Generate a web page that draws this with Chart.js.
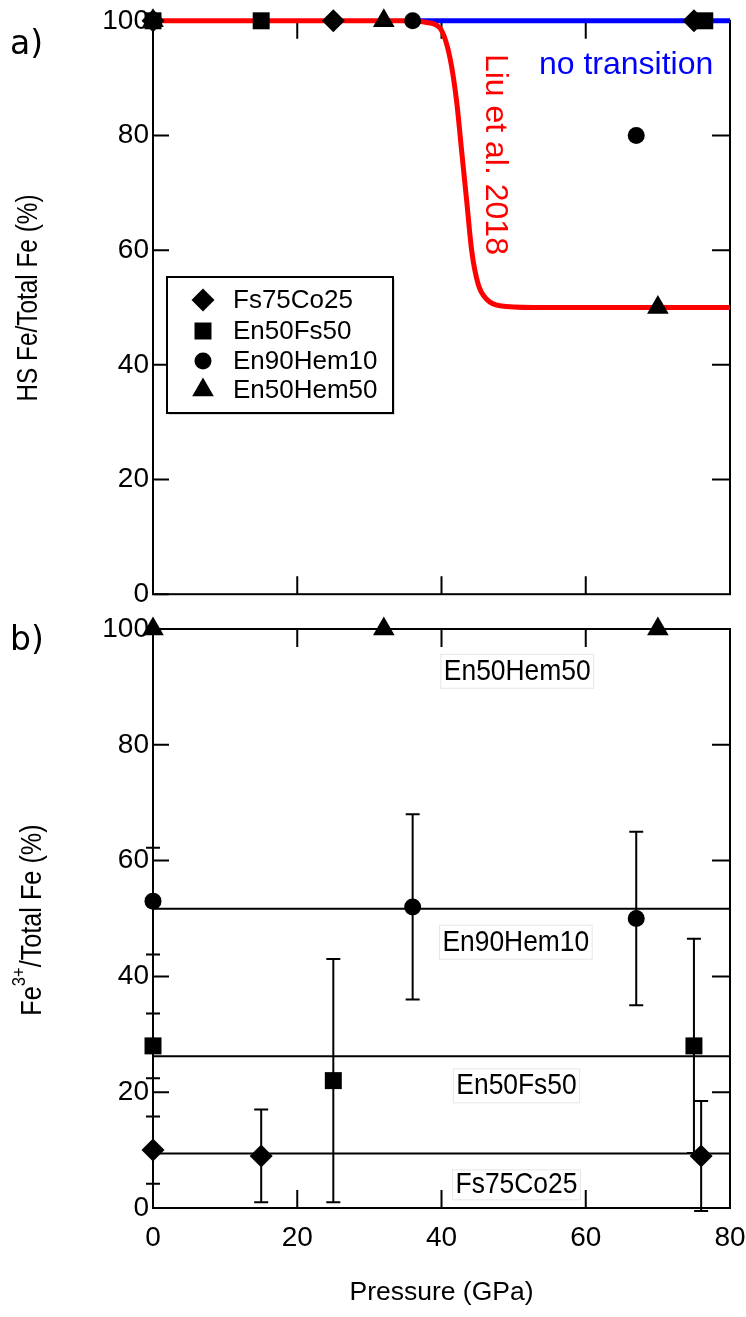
<!DOCTYPE html>
<html><head><meta charset="utf-8">
<script src="https://cdn.jsdelivr.net/npm/chart.js@4/dist/chart.umd.min.js"></script>
<style>
html,body{margin:0;padding:0;background:#fff;}
#wrap{position:relative;width:746px;height:1317px;overflow:hidden;}
#ca{position:absolute;left:0;top:0;}
#cb{position:absolute;left:0;top:608px;}
</style></head><body>
<div id="wrap"><canvas id="ca" width="746" height="615"></canvas><canvas id="cb" width="746" height="709"></canvas></div>
<script>
// ---------- data ----------
const pressureTicks = [0, 20, 40, 60, 80];
const percentTicks = [0, 20, 40, 60, 80, 100];
const seriesNames = ['Fs75Co25', 'En50Fs50', 'En90Hem10', 'En50Hem50'];

// panel a: HS Fe / Total Fe (%)
const fs75P_a = [0, 25, 75],   fs75HS = [100, 100, 100];
const en50fsP_a = [0, 15, 76.5], en50fsHS = [100, 100, 100];
const en90P_a = [0, 36, 67],   en90HS = [100, 100, 80];
const en50hemP_a = [0, 32, 70], en50hemHS = [100, 100, 50];
const liuP  = [0, 36, 38, 39.8, 41.2, 42.1, 42.8, 43.5, 44.2, 45.1, 46.3, 48.1, 52.7, 80];
const liuHS = [100, 100, 99.7, 98.7, 93.4, 85.9, 77.2, 68.5, 59.8, 54, 51.4, 50.3, 50, 50];
const noTransP = [36, 80], noTransHS = [100, 100];

// panel b: Fe3+ / Total Fe (%)
const fs75P_b = [0, 15, 76],    fs75Fe3 = [10, 9, 9],     fs75Err = [5.8, 8, 9.5];
const en50fsP_b = [0, 25, 75],  en50fsFe3 = [28, 22, 28], en50fsErr = [5.6, 21, 18.5];
const en90P_b = [0, 36, 67],    en90Fe3 = [53, 52, 50],   en90Err = [9.2, 16, 15];
const en50hemP_b = [0, 32, 70], en50hemFe3 = [100, 100, 100];
const meanP = [0, 80];
const fs75Mean = [9.4, 9.4], en50fsMean = [26.2, 26.2], en90Mean = [51.7, 51.7], en50hemMean = [100, 100];

// ---------- helpers ----------
const pts = (xs, ys) => xs.map((x, i) => ({x, y: ys[i]}));
const REG = "'Liberation Sans',Arial,sans-serif";
const styles = {Fs75Co25: ['rectRot', 11.5], En50Fs50: ['rect', 12], En90Hem10: ['circle', 8.5], En50Hem50: ['triangle', 12.5]};
function marker(name, data, extra) {
  const [ps, r] = styles[name];
  return Object.assign({label: name, type: 'scatter', data, pointStyle: ps, pointRadius: r, pointHoverRadius: r,
    backgroundColor: '#000', borderColor: '#000', borderWidth: 0, clip: false, order: 1}, extra || {});
}
function line(label, data, color, width, extra) {
  return Object.assign({label, type: 'line', data, borderColor: color, borderWidth: width, pointRadius: 0,
    fill: false, clip: false, order: 5}, extra || {});
}
function drawPt(ctx, style, r, x, y) {
  ctx.fillStyle = '#000';
  if (Chart.helpers && Chart.helpers.drawPoint) {
    Chart.helpers.drawPoint(ctx, {pointStyle: style, radius: r, rotation: 0, borderWidth: 0}, x, y);
  }
}

const framePlugin = {
  id: 'frame',
  beforeDatasetsDraw(chart, args, o) {
    const {ctx, chartArea: a, scales: {x, y}} = chart;
    ctx.save();
    ctx.strokeStyle = '#000'; ctx.lineWidth = 2;
    ctx.strokeRect(a.left, a.top, a.right - a.left, a.bottom - a.top);
    const L = 18;
    ctx.beginPath();
    o.xTicks.forEach(v => { const px = x.getPixelForValue(v);
      ctx.moveTo(px, a.top); ctx.lineTo(px, a.top + L); ctx.moveTo(px, a.bottom); ctx.lineTo(px, a.bottom - L); });
    o.yLeft.forEach(v => { const py = y.getPixelForValue(v); ctx.moveTo(a.left, py); ctx.lineTo(a.left + 16, py); });
    o.yRight.forEach(v => { const py = y.getPixelForValue(v); ctx.moveTo(a.right, py); ctx.lineTo(a.right - 18, py); });
    ctx.stroke();
    ctx.restore();
  }
};
const errPlugin = {
  id: 'errbars',
  beforeDatasetsDraw(chart) {
    const {ctx, scales: {x, y}} = chart;
    ctx.save(); ctx.strokeStyle = '#000'; ctx.lineWidth = 2;
    chart.data.datasets.forEach(ds => {
      if (!ds.errs) return;
      ds.data.forEach((p, i) => {
        const e = ds.errs[i], px = x.getPixelForValue(p.x);
        const y1 = y.getPixelForValue(p.y - e), y2 = y.getPixelForValue(p.y + e);
        ctx.beginPath();
        ctx.moveTo(px, y1); ctx.lineTo(px, y2);
        ctx.moveTo(px - 7, y1); ctx.lineTo(px + 7, y1);
        ctx.moveTo(px - 7, y2); ctx.lineTo(px + 7, y2);
        ctx.stroke();
      });
    });
    ctx.restore();
  }
};
const textPlugin = {
  id: 'texts',
  afterDatasetsDraw(chart, args, o) {
    const {ctx, scales: {x, y}} = chart;
    ctx.save();
    (o.items || []).forEach(t => {
      const px = t.px != null ? t.px : x.getPixelForValue(t.x);
      const py = t.py != null ? t.py : y.getPixelForValue(t.y);
      ctx.save();
      ctx.translate(px, py);
      if (t.rot) ctx.rotate(t.rot);
      const sq = t.sq || 1;
      ctx.font = t.font;
      ctx.textAlign = 'center';
      ctx.textBaseline = 'middle';
      const w = ctx.measureText(t.text).width * sq;
      if (t.box) {
        ctx.fillStyle = '#fff';
        ctx.fillRect(-w / 2 - 3, -t.h / 2, w + 6, t.h);
        ctx.strokeStyle = '#e6e6e6'; ctx.lineWidth = 1;
        ctx.strokeRect(-w / 2 - 3, -t.h / 2, w + 6, t.h);
      }
      if (t.align === 'left') ctx.translate(w / 2, 0);
      ctx.scale(sq, 1);
      ctx.fillStyle = t.color || '#000';
      ctx.fillText(t.text, 0, 0);
      ctx.restore();
    });
    ctx.restore();
  }
};
const legendPlugin = {
  id: 'boxlegend',
  afterDatasetsDraw(chart) {
    const ctx = chart.ctx;
    ctx.save();
    const bx = 167, by = 277, bw = 226, bh = 136;
    ctx.fillStyle = '#d8d8d8'; ctx.fillRect(bx + 2, by + 2, bw, bh);
    ctx.fillStyle = '#fff'; ctx.fillRect(bx, by, bw, bh);
    ctx.strokeStyle = '#000'; ctx.lineWidth = 2; ctx.strokeRect(bx, by, bw, bh);
    const rowsY = [300, 331, 361, 390];
    seriesNames.forEach((n, i) => {
      const [ps, r] = styles[n];
      drawPt(ctx, ps, r, 203, rowsY[i]);
      ctx.fillStyle = '#000'; ctx.font = '26px ' + REG; ctx.textAlign = 'left'; ctx.textBaseline = 'middle';
      ctx.fillText(n, 233, rowsY[i] + 1);
    });
    ctx.restore();
  }
};
// rotated y-axis titles (slightly condensed like the reference), optional superscript
function yTitle(id, cx, cy, sq, parts) {
  return {
    id,
    afterDraw(chart) {
      const ctx = chart.ctx;
      ctx.save();
      ctx.translate(cx, cy);
      ctx.rotate(-Math.PI / 2);
      ctx.scale(sq, 1);
      ctx.fillStyle = '#000'; ctx.textBaseline = 'middle'; ctx.textAlign = 'left';
      const ws = parts.map(p => { ctx.font = p.size + 'px ' + REG; return ctx.measureText(p.t).width; });
      let sx = -ws.reduce((a, b) => a + b, 0) / 2;
      parts.forEach((p, i) => { ctx.font = p.size + 'px ' + REG; ctx.fillText(p.t, sx, p.dy || 0); sx += ws[i]; });
      ctx.restore();
    }
  };
}

const tickFont = {family: REG, size: 28};

// ---------- panel a ----------
new Chart(document.getElementById('ca'), {
  data: {datasets: [
    marker('Fs75Co25', pts(fs75P_a, fs75HS)),
    marker('En50Fs50', pts(en50fsP_a, en50fsHS)),
    marker('En90Hem10', pts(en90P_a, en90HS)),
    marker('En50Hem50', pts(en50hemP_a, en50hemHS)),
    line('Liu et al. 2018', pts(liuP, liuHS), '#ff0000', 5, {cubicInterpolationMode: 'monotone', order: 5}),
    line('no transition', pts(noTransP, noTransHS), '#0000ff', 5, {order: 6})
  ]},
  options: {
    responsive: false, animation: false, events: [],
    layout: {padding: {top: 20, right: 16, bottom: 20, left: 0}},
    scales: {
      x: {type: 'linear', min: 0, max: 80, display: false},
      y: {type: 'linear', min: 0, max: 100,
        afterFit(s) { s.width = 153; },
        afterBuildTicks(s) { s.ticks = percentTicks.map(v => ({value: v})); },
        ticks: {color: '#000', font: tickFont, padding: 4},
        grid: {display: false, drawTicks: false}, border: {display: false}
      }
    },
    plugins: {
      legend: {display: false}, tooltip: {enabled: false},
      frame: {xTicks: [20, 40, 60], yLeft: percentTicks, yRight: [20, 40, 60, 80]},
      texts: {items: [
        {text: 'no transition', x: 65.6, y: 92.2, font: '32px ' + REG, color: '#0000ff'},
        {text: 'Liu et al. 2018', x: 47.4, y: 76.7, font: '32px ' + REG, color: '#ff0000', rot: Math.PI / 2},
        {text: 'a)', px: 10, py: 45, font: '33px DejaVu Sans', align: 'left'}
      ]}
    }
  },
  plugins: [framePlugin, textPlugin, legendPlugin,
    yTitle('ytitlea', 29, 298, 0.84, [{t: 'HS Fe/Total Fe (%)', size: 29}])]
});

// ---------- panel b ----------
new Chart(document.getElementById('cb'), {
  data: {datasets: [
    marker('Fs75Co25', pts(fs75P_b, fs75Fe3), {errs: fs75Err}),
    marker('En50Fs50', pts(en50fsP_b, en50fsFe3), {errs: en50fsErr}),
    marker('En90Hem10', pts(en90P_b, en90Fe3), {errs: en90Err}),
    marker('En50Hem50', pts(en50hemP_b, en50hemFe3)),
    line('Fs75Co25 mean', pts(meanP, fs75Mean), '#000', 2),
    line('En50Fs50 mean', pts(meanP, en50fsMean), '#000', 2),
    line('En90Hem10 mean', pts(meanP, en90Mean), '#000', 2),
    line('En50Hem50 mean', pts(meanP, en50hemMean), '#000', 2)
  ]},
  options: {
    responsive: false, animation: false, events: [],
    layout: {padding: {top: 21, right: 16, bottom: 0, left: 0}},
    scales: {
      x: {type: 'linear', min: 0, max: 80,
        afterFit(s) { s.height = 109; s.paddingLeft = 0; s.paddingRight = 0; },
        afterBuildTicks(s) { s.ticks = pressureTicks.map(v => ({value: v})); },
        ticks: {color: '#000', font: tickFont, padding: 13, maxRotation: 0},
        grid: {display: false, drawTicks: false}, border: {display: false},
        title: {display: true, text: 'Pressure (GPa)', color: '#000', font: {family: REG, size: 26.5}, padding: {top: 0, bottom: 8}}
      },
      y: {type: 'linear', min: 0, max: 100,
        afterFit(s) { s.width = 153; },
        afterBuildTicks(s) { s.ticks = percentTicks.map(v => ({value: v})); },
        ticks: {color: '#000', font: tickFont, padding: 4},
        grid: {display: false, drawTicks: false}, border: {display: false}
      }
    },
    plugins: {
      legend: {display: false}, tooltip: {enabled: false},
      frame: {xTicks: [20, 40, 60], yLeft: percentTicks, yRight: [20, 40, 60, 80]},
      texts: {items: [
        {text: 'En50Hem50', x: 50.5, y: 92.7, font: '30px ' + REG, sq: 0.88, box: true, h: 34},
        {text: 'En90Hem10', x: 50.3, y: 45.9, font: '30px ' + REG, sq: 0.88, box: true, h: 34},
        {text: 'En50Fs50', x: 50.4, y: 21.1, font: '30px ' + REG, sq: 0.88, box: true, h: 34},
        {text: 'Fs75Co25', x: 50.4, y: 4.0, font: '30px ' + REG, sq: 0.88, box: true, h: 30},
        {text: 'b)', px: 10, py: 33, font: '33px DejaVu Sans', align: 'left'}
      ]}
    }
  },
  plugins: [framePlugin, errPlugin, textPlugin,
    yTitle('ytitleb', 33, 312, 0.87, [{t: 'Fe', size: 29}, {t: '3+', size: 19, dy: -13}, {t: '/Total Fe (%)', size: 29}])]
});
</script>
</body></html>
